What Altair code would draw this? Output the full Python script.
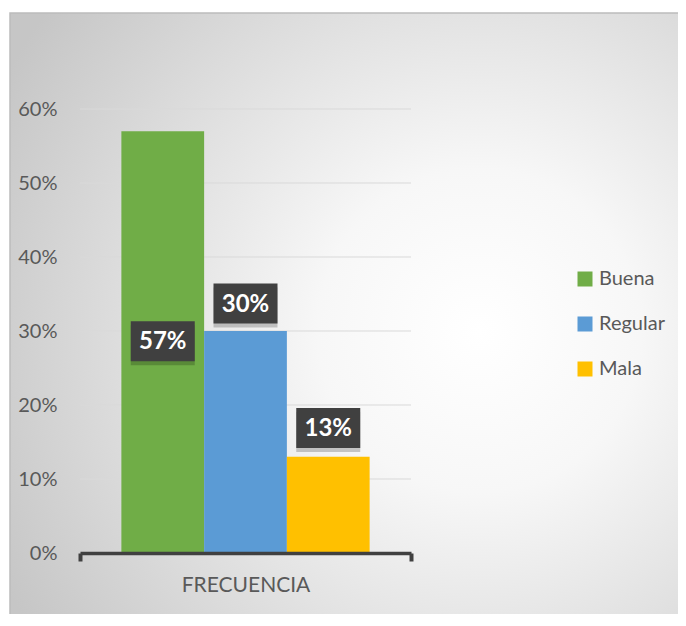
import altair as alt
import pandas as pd

# ---- data ----
categories = ["Buena", "Regular", "Mala"]
values = [0.57, 0.30, 0.13]
colors = ["#70AD47", "#5B9BD5", "#FFC000"]
group = "FRECUENCIA"
# vertical shift of each data-label box relative to its bar top (in value units)
label_shift = [-0.284, 0.037, 0.039]
y_ticks = [0, 0.1, 0.2, 0.3, 0.4, 0.5, 0.6]

df = pd.DataFrame({
    "serie": categories,
    "valor": values,
    "grupo": [group] * len(categories),
    "shift": label_shift,
})
df["label"] = [f"{round(v * 100)}%" for v in values]
grid_df = pd.DataFrame({"tick": y_ticks[1:]})

FONT = "Lato"
TXT = "#595959"

x_enc = alt.X("grupo:N", title=None,
              scale=alt.Scale(paddingInner=0, paddingOuter=0),
              axis=alt.Axis(labelAngle=0, labelFontSize=21, labelColor=TXT,
                            labelFont=FONT, domainColor="#404040", domainWidth=3.5,
                            tickColor="#404040", tickWidth=4, tickSize=8,
                            tickBand="extent", labelPadding=13, zindex=2))
xoff = alt.XOffset("serie:N", sort=categories,
                   scale=alt.Scale(paddingInner=0, paddingOuter=0.5))
color_enc = alt.Color("serie:N", sort=categories,
                      scale=alt.Scale(domain=categories, range=colors),
                      legend=alt.Legend(title=None, orient="none", legendX=495, legendY=160,
                                        symbolType="square", symbolSize=225,
                                        symbolStrokeWidth=0, labelFontSize=20,
                                        labelFont=FONT, labelColor=TXT, labelOffset=4,
                                        rowPadding=25, padding=0))
y_scale = alt.Scale(domain=[0, 0.6], nice=False)

# background panel with a radial gradient (decoration)
bg = alt.Chart(alt.Data(values=[{}])).mark_rect(
    fill=alt.Gradient(gradient="radial", x1=0.68, y1=0.5, r1=0, x2=0.68, y2=0.5, r2=0.78,
                      stops=[alt.GradientStop(color="#ffffff", offset=0),
                             alt.GradientStop(color="#f7f7f7", offset=0.3),
                             alt.GradientStop(color="#c6c6c6", offset=1)]),
    stroke="#bcbcbc", strokeWidth=1.5
).encode(x=alt.value(-70), x2=alt.value(620), y=alt.value(-96), y2=alt.value(540))

gridlines = alt.Chart(grid_df).mark_rule(color="#d9d9d9", strokeWidth=1).encode(
    y=alt.Y("tick:Q", scale=y_scale)
)

base = alt.Chart(df)

bars = base.mark_bar().encode(
    x=x_enc,
    xOffset=xoff,
    y=alt.Y("valor:Q", title=None, scale=y_scale,
            axis=alt.Axis(values=y_ticks, format=".0%", labelFontSize=20, labelFont=FONT,
                          labelColor=TXT, domain=False, ticks=False, labelPadding=23,
                          grid=False, zindex=2)),
    color=color_enc,
)

box_shape = "M-1,-0.625L1,-0.625L1,0.625L-1,0.625Z"

shadow = base.transform_calculate(ly="datum.valor + datum.shift").mark_point(
    shape=box_shape, filled=True, size=4096, color="#000000", opacity=0.2,
    xOffset=3, yOffset=4
).encode(x="grupo:N", xOffset=xoff, y="ly:Q")

boxes = base.transform_calculate(ly="datum.valor + datum.shift").mark_point(
    shape=box_shape, filled=True, size=4096, color="#404040", opacity=1
).encode(x="grupo:N", xOffset=xoff, y="ly:Q")

texts = base.transform_calculate(ly="datum.valor + datum.shift").mark_text(
    font=FONT, fontSize=24, fontWeight="bold", color="#ffffff", baseline="middle", dy=1
).encode(x="grupo:N", xOffset=xoff, y="ly:Q", text="label:N")

chart = alt.layer(bg, gridlines, bars, shadow, boxes, texts).properties(
    width=331, height=444,
    autosize="none",
    padding={"left": 72, "top": 101, "right": 267, "bottom": 61},
    background="#ffffff",
).configure_view(stroke=None)

chart.save("out.html", embed_options={"renderer": "svg", "actions": False})
